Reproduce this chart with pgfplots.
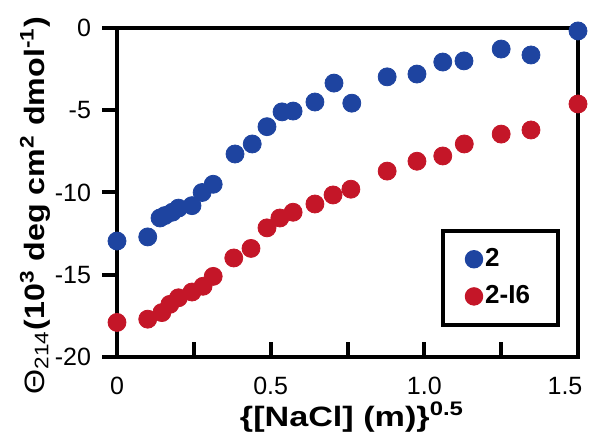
\documentclass[border=0pt]{standalone}
\usepackage{fontspec}
\setmainfont{Liberation Sans}
\usepackage{graphicx}
\usepackage{pgfplots}
\pgfplotsset{compat=1.18}
\definecolor{bl}{RGB}{30,68,160}
\definecolor{rd}{RGB}{196,22,40}
\begin{document}
\begin{tikzpicture}
\begin{axis}[
  name=ax,
  scale only axis,
  width=230.5pt, height=164.5pt,
  xmin=0, xmax=1.5, ymin=-20, ymax=0,
  clip=false,
  axis line style={line width=2pt},
  major tick length=7.5pt,
  xtick={0,0.5,1.0,1.5},
  xticklabels={0,0.5,1.0,{\hspace*{-13pt}1.5}},
  ytick={-20,-15,-10,-5,0},
  yticklabels={-20,-15,-10,-5,0},
  tick align=outside,
  tick style={draw=none},
  tick label style={font=\fontsize{12.5}{15}\selectfont},
  yticklabel style={xshift=-2pt},
  xticklabel style={yshift=1pt},
  xlabel={\scalebox{1.22}[1]{\textbf{\{[NaCl] (m)\}\textsuperscript{0.5}}}},
  ylabel={\scalebox{1.15}[1]{Θ\textsubscript{214}\textbf{(10\textsuperscript{3} deg cm\textsuperscript{2} dmol\textsuperscript{-1})}}},
  label style={font=\fontsize{14}{16}\selectfont},
  xlabel style={at={(rel axis cs:0.51,0)}, anchor=center, yshift=-30pt},
  ylabel style={at={(rel axis cs:0,0.46)}, anchor=center, rotate=0, yshift=41pt},
  legend style={at={(1,0)}, anchor=south east, xshift=-9pt, yshift=15pt,
    draw=black, line width=2pt, font=\bfseries\fontsize{13}{15}\selectfont,
    inner xsep=12pt, inner ysep=7pt, row sep=4pt, cells={anchor=west}},
  legend image post style={mark size=3.6pt},
]
\addplot[only marks, mark=*, mark size=4.5pt, draw=bl, fill=bl] coordinates {
(0,-12.95) (0.10,-12.7) (0.14,-11.55) (0.156,-11.4) (0.18,-11.2) (0.20,-10.95)
(0.244,-10.8) (0.277,-10.0) (0.313,-9.5) (0.384,-7.66) (0.44,-7.05) (0.488,-6.0)
(0.537,-5.1) (0.573,-5.05) (0.644,-4.5) (0.706,-3.35) (0.764,-4.57) (0.879,-2.97)
(0.976,-2.8) (1.06,-2.07) (1.129,-2.0) (1.25,-1.28) (1.347,-1.64) (1.5,-0.18)
};
\addlegendentry{2}
\addplot[only marks, mark=*, mark size=4.5pt, draw=rd, fill=rd] coordinates {
(0,-17.9) (0.10,-17.7) (0.146,-17.3) (0.172,-16.8) (0.20,-16.4) (0.244,-16.05)
(0.28,-15.7) (0.313,-15.1) (0.38,-13.98) (0.436,-13.4) (0.488,-12.15) (0.53,-11.55)
(0.573,-11.2) (0.644,-10.7) (0.703,-10.15) (0.761,-9.8) (0.879,-8.7) (0.976,-8.1)
(1.06,-7.78) (1.13,-7.05) (1.25,-6.45) (1.347,-6.2) (1.5,-4.62)
};
\addlegendentry{2-I6}
\end{axis}
\foreach \i in {1,...,5}{
  \draw[line width=2pt, black] ([xshift=\i*38.4167pt]ax.south west) -- ++(0,7.5pt);
}
\foreach \j in {0,...,4}{
  \draw[line width=2pt, black] ([yshift=\j*41.125pt]ax.south west) -- ++(-7.5pt,0);
}
\pgfresetboundingbox
\path ([xshift=-58.5pt,yshift=-45pt]ax.south west) rectangle ([xshift=11pt,yshift=14pt]ax.north east);
\end{tikzpicture}
\end{document}
